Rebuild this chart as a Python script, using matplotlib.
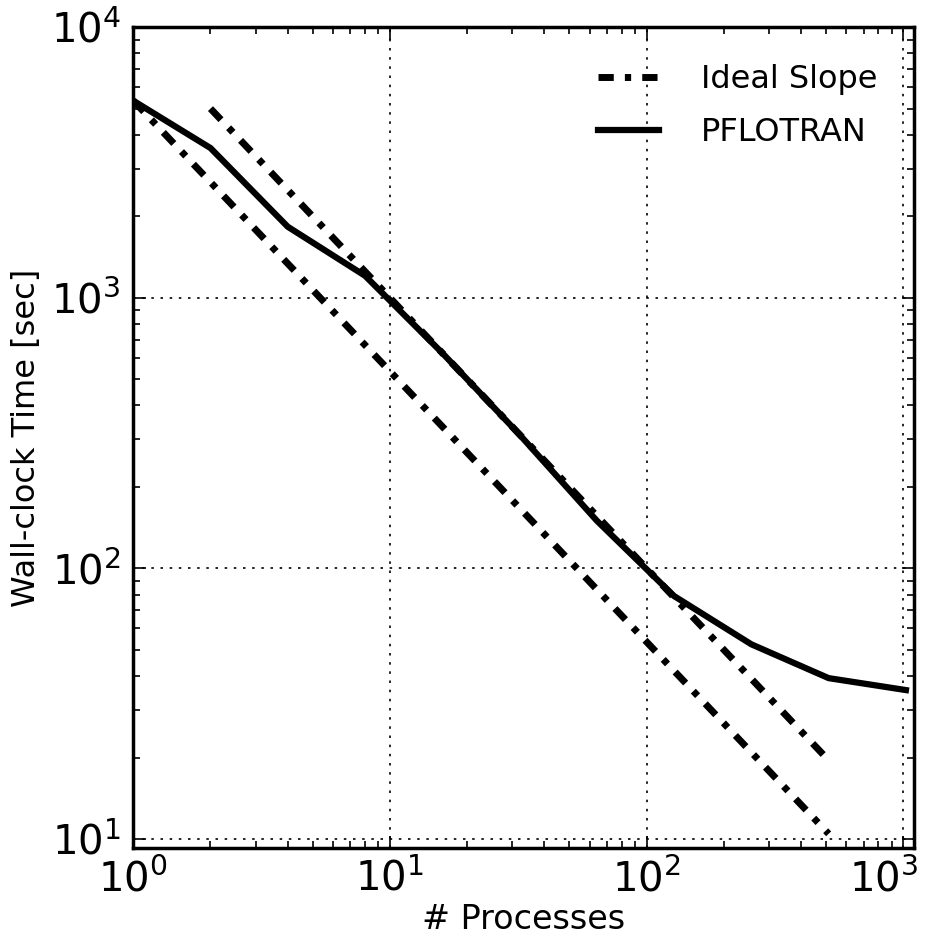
import numpy as np
import matplotlib
matplotlib.use("Agg")
import matplotlib.pyplot as plt
import matplotlib.transforms as mtransforms

# PFLOTRAN strong scaling
procs = [1, 2, 4, 8, 16, 32, 64, 128, 256, 512, 1024]
wall_time = [5350, 3575, 1830, 1206, 625, 312, 150, 79, 52.4, 39.3, 35.5]

# ideal slope reference lines (T0 / p)
ideal_a_x = [1, 512]
ideal_a_y = [5350, 5350 / 512]
ideal_b_x = [2, 512]
ideal_b_y = [5000, 10000 / 512]

plt.rcParams["font.family"] = "DejaVu Sans"

fig = plt.figure(figsize=(9.25, 9.36), dpi=100)
ax = fig.add_axes([0.144, 0.094, 0.844, 0.877])

dash = (0, (2.2, 1.6, 0.9, 1.6))
ax.loglog(ideal_a_x, ideal_a_y, color="black", lw=5, linestyle=dash,
          label="Ideal Slope")
ax.loglog(ideal_b_x, ideal_b_y, color="black", lw=5, linestyle=dash)
ax.loglog(procs, wall_time, color="black", lw=4.5, label="PFLOTRAN")

ax.set_xlim(1, 1100)
ax.set_ylim(9.26, 1e4)

ax.grid(True, which="major", color="black", linestyle=(0, (1.5, 4)), lw=1.2)
ax.tick_params(which="both", direction="in", top=True, right=True,
               labelsize=29)
ax.tick_params(axis="x", pad=8)
ax.tick_params(axis="y", pad=9)
ax.tick_params(which="major", length=9, width=1.2)
ax.tick_params(which="minor", length=5, width=1.2)
for s in ax.spines.values():
    s.set_linewidth(2.5)

ax.set_xlabel("# Processes", fontsize=24, labelpad=2)
ax.set_ylabel("Wall-clock Time [sec]", fontsize=23, labelpad=6)

leg = ax.legend(loc="upper right", frameon=False, fontsize=23,
                handlelength=1.9, handletextpad=1.3,
                borderaxespad=0.75, labelspacing=0.7)

# keep the 10^3 label inside the canvas
fig.canvas.draw()
for lab in ax.get_xticklabels():
    if lab.get_position()[0] == 1000:
        lab.set_transform(lab.get_transform() +
                          mtransforms.ScaledTranslation(-0.2, 0, fig.dpi_scale_trans))

fig.savefig("out.png", dpi=100)
